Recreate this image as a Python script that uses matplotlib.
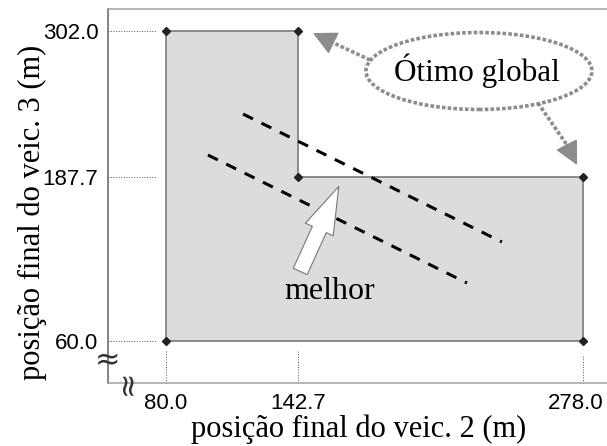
import matplotlib
matplotlib.use("Agg")
import matplotlib.pyplot as plt
from matplotlib.patches import Ellipse, FancyArrowPatch, Polygon
from matplotlib.transforms import ScaledTranslation

# feasible region corners (veic. 2 position, veic. 3 position)
region_x = [80.0, 80.0, 142.7, 142.7, 278.0, 278.0]
region_y = [60.0, 302.0, 302.0, 187.7, 187.7, 60.0]

x_ticks = [80.0, 142.7, 278.0]
y_ticks = [60.0, 187.7, 302.0]

# iso-cost lines (dashed)
iso_upper_x = [116.6, 239.5]
iso_upper_y = [237.2, 137.3]
iso_lower_x = [99.9, 222.9]
iso_lower_y = [205.2, 105.3]

# "melhor" direction arrow: tail -> tip
better_x = [143.2, 162.6]
better_y = [112.3, 182.6]

# "Ótimo global" callout
label_center = (228.6, 270.8)
label_size = (107.3, 60.1)
callout_a_x = [176.9, 158.3, 149.8]   # shaft start, head base, tip
callout_a_y = [279.4, 293.6, 300.4]
callout_b_x = [256.6, 270.0, 275.2]
callout_b_y = [245.8, 214.0, 197.4]

fill_col = "#dcdcdc"
edge_col = "#7a7a7a"
callout_col = "#8c8c8c"

fig = plt.figure(figsize=(6.07, 4.46), dpi=100)
ax = fig.add_axes([108 / 607, 1 - 383 / 446, 1 - 108 / 607, (383 - 9) / 446])
ax.set_xlim(52.46, 289.4)
ax.set_ylim(27.2, 319.2)

# region
poly = Polygon(list(zip(region_x, region_y)), closed=True, facecolor=fill_col,
               edgecolor=edge_col, linewidth=1.2, zorder=2)
ax.add_patch(poly)
ax.plot(region_x, region_y, linestyle="none", marker="D", markersize=4.5,
        color="#222222", zorder=5)

# dotted guides from axes to the corner values
x0, y0 = ax.get_xlim()[0], ax.get_ylim()[0]
for yv in y_ticks:
    ax.plot([x0, 75.7], [yv, yv], linestyle=":", color="#555555", linewidth=0.7,
            zorder=1)
for xv in x_ticks:
    top = 53.0 if xv < 200 else 48.3
    ax.plot([xv, xv], [y0, top], linestyle=":", color="#555555", linewidth=0.7,
            zorder=1)

# iso-cost lines
for xs, ys in [(iso_upper_x, iso_upper_y), (iso_lower_x, iso_lower_y)]:
    ax.plot(xs, ys, color="black", linewidth=2.2, linestyle=(0, (3.6, 3.1)),
            zorder=4)

# white "better" arrow
arr = FancyArrowPatch((better_x[0], better_y[0]), (better_x[1], better_y[1]),
                      arrowstyle="simple,head_length=3.4,head_width=2.2,tail_width=1.1",
                      mutation_scale=10, facecolor="white", edgecolor="#777777",
                      linewidth=0.8, zorder=6)
ax.add_patch(arr)
ax.text(157.9, 98.3, "melhor", family="Liberation Serif", fontsize=23,
        ha="center", va="center", zorder=6)

# global optimum callout
ell = Ellipse(label_center, label_size[0], label_size[1], fill=False,
              edgecolor=callout_col, linewidth=2.6, linestyle=(0, (1, 0.6)),
              zorder=6)
ax.add_patch(ell)
ax.text(label_center[0] - 1.0, label_center[1], "Ótimo global",
        family="Liberation Serif", fontsize=22.5, ha="center", va="center",
        zorder=6)
for cx, cy in [(callout_a_x, callout_a_y), (callout_b_x, callout_b_y)]:
    ax.plot(cx[:2], cy[:2], color=callout_col, linewidth=2.6,
            linestyle=(0, (1, 0.6)), zorder=6)
    ax.annotate("", xy=(cx[2], cy[2]), xytext=(cx[1], cy[1]),
                arrowprops=dict(arrowstyle="-|>,head_length=0.75,head_width=0.38",
                                mutation_scale=20, color=callout_col, lw=1,
                                shrinkA=0, shrinkB=0), zorder=6)

# axes frame
ax.spines["right"].set_visible(False)
ax.spines["top"].set_color("#a0a0a0")
ax.spines["bottom"].set_color("#a0a0a0")
ax.spines["left"].set_color("#606060")
for s in ["top", "bottom", "left"]:
    ax.spines[s].set_linewidth(1.1)

ax.set_xticks(x_ticks, [f"{v:.1f}" for v in x_ticks])
ax.set_yticks(y_ticks, [f"{v:.1f}" for v in y_ticks])
ax.tick_params(length=0, pad=7, labelsize=16)
for lab in ax.get_xticklabels() + ax.get_yticklabels():
    lab.set_family("Liberation Sans")
last = ax.get_xticklabels()[-1]
last.set_transform(last.get_transform()
                   + ScaledTranslation(-7 / 100, 0, fig.dpi_scale_trans))

# axis break marks
ax.text(x0, 44.5, "≈", fontsize=22, ha="center", va="center", color="#333333",
        clip_on=False, zorder=7)
ax.text(61.5, y0 + 0.5, "≈", fontsize=22, ha="center", va="center", rotation=90,
        color="#333333", clip_on=False, zorder=7)

fig.text(359 / 607, 0.037, "posição final do veic. 2 (m)", family="Liberation Serif",
         fontsize=22, ha="center", va="center")
fig.text(32 / 607, 1 - 212 / 446, "posição final do veic. 3 (m)",
         family="Liberation Serif", fontsize=22, ha="center", va="center",
         rotation=90)

fig.savefig("out.png", dpi=100)
